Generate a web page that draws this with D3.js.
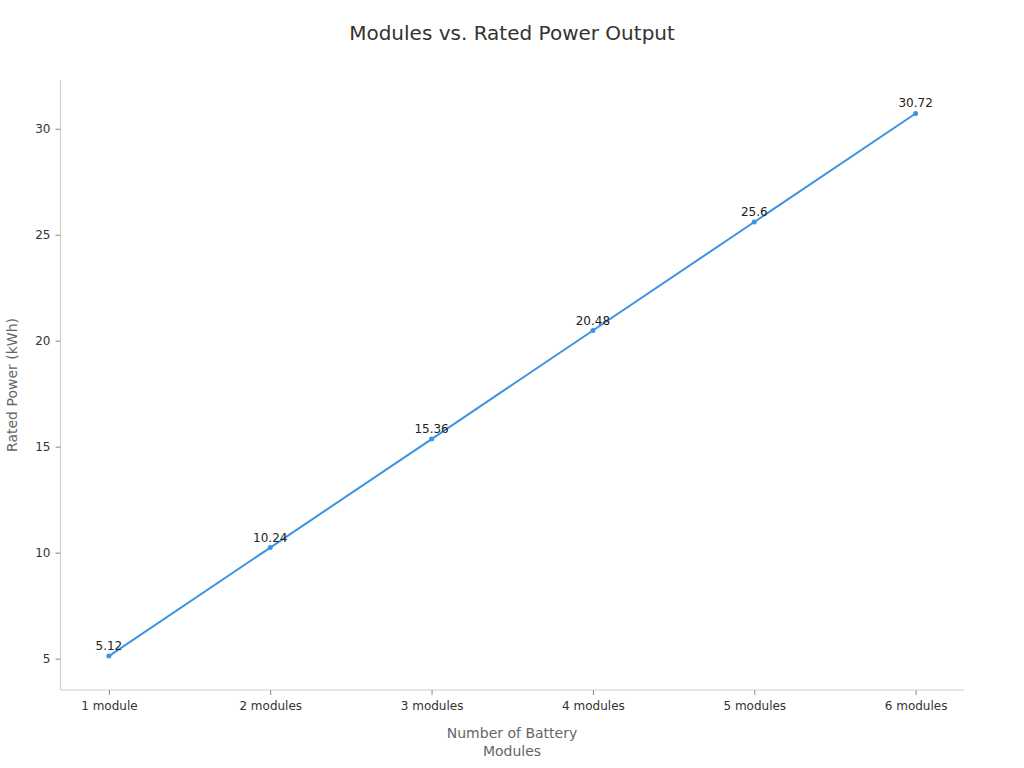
<!DOCTYPE html>
<html><head><meta charset="utf-8">
<script src="https://cdn.jsdelivr.net/npm/d3@7"></script>
<style>body{margin:0;background:#fff}svg{display:block;font-family:"DejaVu Sans",sans-serif}</style>
</head><body>
<svg id="c" width="1024" height="768"></svg>
<script>
const categories = ["1 module","2 modules","3 modules","4 modules","5 modules","6 modules"];
const values = [5.12, 10.24, 15.36, 20.48, 25.6, 30.72];
const yTicks = [5, 10, 15, 20, 25, 30];
const title = "Modules vs. Rated Power Output";
const xTitle = ["Number of Battery", "Modules"];
const yTitle = "Rated Power (kWh)";

const svg = d3.select("#c");
const L = 60.5, R = 964, T = 80, B = 690;
const x = d3.scalePoint().domain(categories).range([L, R]).padding(0.3);
const y = d3.scaleLinear().domain([3.52, 32.3]).range([B, T]);

svg.append("text").attr("x", 512).attr("y", 40).attr("text-anchor","middle")
  .attr("font-size", 20).attr("fill","#333").text(title);

const gx = svg.append("g").attr("transform",`translate(0,${B})`)
  .call(d3.axisBottom(x).tickSize(5).tickPadding(6).tickSizeOuter(0));
const gy = svg.append("g").attr("transform",`translate(${L},0)`)
  .call(d3.axisLeft(y).tickValues(yTicks).tickSize(5).tickPadding(5).tickSizeOuter(0));
[gx, gy].forEach(g => {
  g.select(".domain").attr("stroke","#ccc");
  g.selectAll(".tick line").attr("stroke","#888");
  g.selectAll(".tick text").attr("fill","#333").attr("font-size",12).attr("font-family","DejaVu Sans, sans-serif");
});
gy.select(".domain").attr("d", `M0,${T}V${B}`);
gx.select(".domain").attr("d", `M${L},0H${R}`);

const line = d3.line().x((d,i)=>x(categories[i])).y(d=>y(d));
svg.append("path").datum(values).attr("d", line).attr("fill","none")
  .attr("stroke","#3b93e3").attr("stroke-width",2);
svg.selectAll("circle.p").data(values).enter().append("circle")
  .attr("cx",(d,i)=>x(categories[i])).attr("cy",d=>y(d)).attr("r",2.5).attr("fill","#3b93e3");
svg.selectAll("text.lbl").data(values).enter().append("text")
  .attr("x",(d,i)=>x(categories[i])).attr("y",d=>y(d)-6).attr("text-anchor","middle")
  .attr("font-size",12).attr("fill","#222").text(d=>d);

svg.append("text").attr("text-anchor","middle").attr("font-size",14).attr("fill","#666")
  .selectAll("tspan").data(xTitle).enter().append("tspan")
  .attr("x",512).attr("y",(d,i)=>738+i*18).text(d=>d);
svg.append("text").attr("transform","translate(17,385) rotate(-90)").attr("text-anchor","middle")
  .attr("font-size",14).attr("fill","#666").text(yTitle);
</script>
</body></html>
